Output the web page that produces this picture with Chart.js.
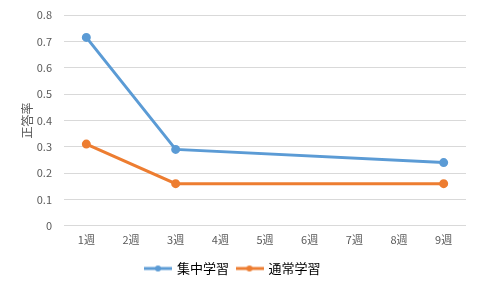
<!doctype html>
<html lang="ja">
<head>
  <meta charset="utf-8" />
  <title>正答率</title>
  <script src="https://cdn.jsdelivr.net/npm/chart.js"></script>
  <style>
    html, body { margin: 0; padding: 0; background: #fff; }
    #wrap { width: 480px; height: 289px; }
  </style>
</head>
<body>
  <div id="wrap"><canvas id="chart" width="480" height="289"></canvas></div>
  <script>
    // data
    const weeks = ['1週', '2週', '3週', '4週', '5週', '6週', '7週', '8週', '9週'];
    const shuchu = [0.715, null, 0.29, null, null, null, null, null, 0.24];
    const tsujo = [0.31, null, 0.16, null, null, null, null, null, 0.16];
    const seriesNames = ['集中学習', '通常学習'];
    const seriesColors = ['#5b9bd5', '#ed7d31'];

    const FONT = "'Noto Sans CJK JP', 'Noto Sans', sans-serif";
    Chart.defaults.font.family = FONT;
    Chart.defaults.color = '#595959';

    // legend marker: short line with a dot
    function legendMark(color) {
      const c = document.createElement('canvas');
      c.width = 28; c.height = 8;
      const g = c.getContext('2d');
      g.strokeStyle = color; g.lineWidth = 3;
      g.beginPath(); g.moveTo(0, 4); g.lineTo(28, 4); g.stroke();
      g.fillStyle = color;
      g.beginPath(); g.arc(14, 4, 3, 0, Math.PI * 2); g.fill();
      return c;
    }

    const ctx = document.getElementById('chart').getContext('2d');
    new Chart(ctx, {
      type: 'line',
      data: {
        labels: weeks,
        datasets: [shuchu, tsujo].map((d, i) => ({
          label: seriesNames[i],
          data: d,
          borderColor: seriesColors[i],
          backgroundColor: seriesColors[i],
          borderWidth: 3,
          pointRadius: 3,
          pointHoverRadius: 3,
          spanGaps: true,
          tension: 0
        }))
      },
      options: {
        responsive: false,
        animation: false,
        layout: { padding: { left: 0, top: 15, right: 14, bottom: 4 } },
        plugins: {
          tooltip: { enabled: false },
          legend: {
            position: 'bottom',
            labels: {
              font: { size: 13 },
              color: '#595959',
              usePointStyle: true,
              pointStyleWidth: 25,
              boxHeight: 8,
              padding: 8,
              generateLabels: chart => chart.data.datasets.map((ds, i) => ({
                text: ds.label,
                pointStyle: legendMark(seriesColors[i]),
                fillStyle: seriesColors[i],
                strokeStyle: seriesColors[i],
                lineWidth: 0,
                datasetIndex: i,
                hidden: false
              }))
            }
          }
        },
        scales: {
          x: {
            offset: true,
            grid: { display: false, drawTicks: false },
            border: { display: false },
            ticks: { font: { size: 11 }, color: '#595959', padding: 7, maxRotation: 0 },
            afterFit: s => { s.height += 1; }
          },
          y: {
            min: 0,
            max: 0.8,
            grid: { color: '#d9d9d9', lineWidth: 1, drawTicks: false },
            border: { display: false },
            ticks: { stepSize: 0.1, font: { size: 11 }, color: '#595959', padding: 12 },
            title: { display: true, text: '正答率', font: { size: 12 }, color: '#595959', padding: { top: 20, bottom: 0 } },
            afterFit: s => { s.width = 64; s.paddingTop = 0; s.paddingBottom = 0; }
          }
        }
      }
    });
  </script>
</body>
</html>
